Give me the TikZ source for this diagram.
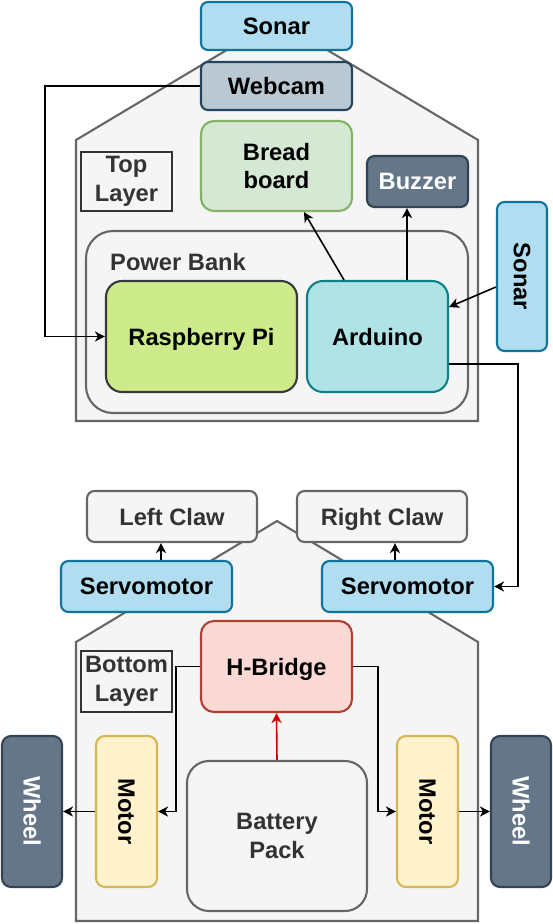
\documentclass[tikz,border=0pt]{standalone}
\usepackage{fontspec}
\setmainfont{Liberation Sans}
\usetikzlibrary{arrows.meta,calc}
\definecolor{sonarF}{HTML}{B1DDF0}\definecolor{sonarD}{HTML}{10739E}
\definecolor{camF}{HTML}{BAC8D3}\definecolor{camD}{HTML}{23445D}
\definecolor{grnF}{HTML}{D5E8D4}\definecolor{grnD}{HTML}{82B366}
\definecolor{slateF}{HTML}{647687}\definecolor{slateD}{HTML}{314354}
\definecolor{piF}{HTML}{CDEB8B}\definecolor{piD}{HTML}{36393D}
\definecolor{ardF}{HTML}{B0E3E6}\definecolor{ardD}{HTML}{0E8088}
\definecolor{grayF}{HTML}{F5F5F5}\definecolor{grayD}{HTML}{666666}
\definecolor{txtG}{HTML}{333333}
\definecolor{hbF}{HTML}{FAD9D5}\definecolor{hbD}{HTML}{AE4132}
\definecolor{motF}{HTML}{FFF2CC}\definecolor{motD}{HTML}{D6B656}
\definecolor{redA}{HTML}{CC0000}
\begin{document}
\begin{tikzpicture}[x=1pt,y=-1pt,
  lbl/.style={font=\fontsize{23.7}{28.5}\selectfont\bfseries},
  box/.style={lbl, draw, line width=2.1pt, inner sep=0pt, align=center},
  one/.style={text depth=0pt},
  sonarbox/.style={box, fill=sonarF, draw=sonarD},
  slatebox/.style={box, fill=slateF, draw=slateD, text=white},
  graybox/.style={box, fill=grayF, draw=grayD, text=txtG},
  motorbox/.style={box, fill=motF, draw=motD},
  layerbox/.style={box, draw=txtG, text=txtG, line width=2.3pt},
  shell/.style={fill=grayF, draw=grayD, line width=2.1pt},
  arr/.style={line width=1.6pt, -{Stealth[length=10pt,width=10pt,inset=3pt]}},
]
\useasboundingbox (0,0) rectangle (553,924);

% layer shells
\draw[shell] (76,140) -- (277,20) -- (478,140) -- (478,421) -- (76,421) -- cycle;
\draw[shell] (76,642) -- (277,521) -- (478,642) -- (478,921) -- (76,921) -- cycle;

% ---------- top layer ----------
\node[graybox, minimum width=382pt, minimum height=182pt, rounded corners=27pt] (power) at (277,322) {};
\node[lbl, text=txtG, anchor=west, inner sep=0pt] (pblabel) at (110,262) {Power Bank};
\node[sonarbox, one, minimum width=151pt, minimum height=48pt, rounded corners=7pt] (sonarT) at (276.5,26) {Sonar};
\node[box, one, fill=camF, draw=camD, minimum width=151pt, minimum height=48pt, rounded corners=7pt] (webcam) at (276.5,86) {Webcam};
\node[box, fill=grnF, draw=grnD, minimum width=151pt, minimum height=90pt, rounded corners=13pt] (bread) at (276.5,166) {Bread\\board};
\node[slatebox, one, minimum width=101pt, minimum height=51pt, rounded corners=7.5pt] (buzzer) at (417.5,181.5) {Buzzer};
\node[sonarbox, minimum width=50pt, minimum height=149pt, rounded corners=7.5pt] (sonarR) at (522,276.5) {\rotatebox{-90}{Sonar}};
\node[layerbox, minimum width=91pt, minimum height=59pt] (toplayer) at (126.5,181.5) {Top\\Layer};
\node[box, one, fill=piF, draw=piD, minimum width=191pt, minimum height=111pt, rounded corners=16pt] (rpi) at (201.5,336.5) {Raspberry Pi};
\node[box, one, fill=ardF, draw=ardD, minimum width=141pt, minimum height=111pt, rounded corners=16pt] (ard) at (377.5,336.5) {Arduino};

% ---------- bottom layer ----------
\node[graybox, one, minimum width=170pt, minimum height=51pt, rounded corners=7.5pt] (lclaw) at (172,516.5) {Left Claw};
\node[graybox, one, minimum width=170pt, minimum height=51pt, rounded corners=7.5pt] (rclaw) at (382,516.5) {Right Claw};
\node[sonarbox, one, minimum width=171pt, minimum height=51pt, rounded corners=7.5pt] (servoL) at (146.5,586.5) {Servomotor};
\node[sonarbox, one, minimum width=171pt, minimum height=51pt, rounded corners=7.5pt] (servoR) at (407.5,586.5) {Servomotor};
\node[layerbox, minimum width=91pt, minimum height=61pt] (botlayer) at (126.5,681.5) {Bottom\\Layer};
\node[box, one, fill=hbF, draw=hbD, minimum width=151pt, minimum height=91pt, rounded corners=13pt] (hbridge) at (276.5,666.5) {H-Bridge};
\node[graybox, minimum width=180pt, minimum height=150pt, rounded corners=22pt] (battery) at (277,836) {Battery\\Pack};
\node[motorbox, minimum width=61pt, minimum height=151pt, rounded corners=9pt] (motorL) at (126.5,811.5) {\rotatebox{-90}{Motor}};
\node[motorbox, minimum width=61pt, minimum height=151pt, rounded corners=9pt] (motorR) at (427.5,811.5) {\rotatebox{-90}{Motor}};
\node[slatebox, minimum width=60pt, minimum height=151pt, rounded corners=9pt] (wheelL) at (32,811.5) {\rotatebox{-90}{Wheel}};
\node[slatebox, minimum width=60pt, minimum height=151pt, rounded corners=9pt] (wheelR) at (521,811.5) {\rotatebox{-90}{Wheel}};

% ---------- connectors ----------
\draw[arr] (webcam.west) -- ++(-155,0) |- (rpi.west);
\draw[arr] ([xshift=-33.5pt]ard.north) -- ([xshift=27.5pt]bread.south);
\draw[arr] ([xshift=29.5pt]ard.north) -- ([xshift=29.5pt]ard.north |- buzzer.south);
\draw[arr] ([yshift=-10.5pt]sonarR.west) -- ([yshift=29.5pt]ard.east);
\draw[arr] ([yshift=-27.5pt]ard.east) -- ++(69,0) |- (servoR.east);
\draw[arr] ([xshift=14.5pt]servoL.north) -- ([xshift=14.5pt]servoL.north |- lclaw.south);
\draw[arr] ([xshift=-12.5pt]servoR.north) -- ([xshift=-12.5pt]servoR.north |- rclaw.south);
\draw[arr, draw=redA, fill=redA] (battery.north) -- (hbridge.south);
\draw[arr] (hbridge.west) -- ++(-24,0) |- (motorL.east);
\draw[arr] (hbridge.east) -- ++(25,0) |- (motorR.west);
\draw[arr] (motorL.west) -- (wheelL.east);
\draw[arr] (motorR.east) -- (wheelR.west);
\end{tikzpicture}
\end{document}
